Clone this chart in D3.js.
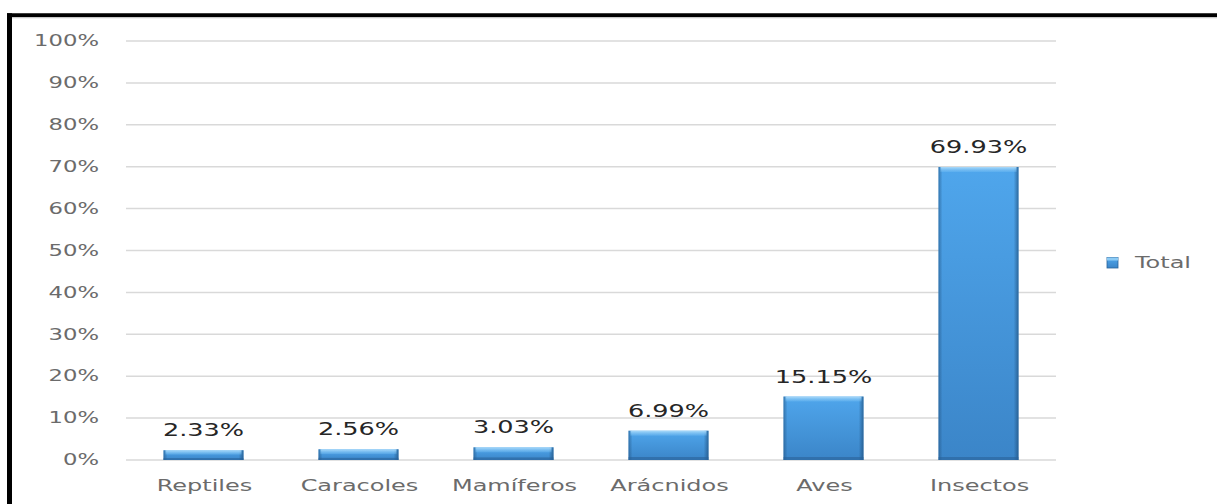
<!DOCTYPE html>
<html>
<head>
<meta charset="utf-8">
<script src="https://cdn.jsdelivr.net/npm/d3@7"></script>
<style>
html,body{margin:0;padding:0;background:#fff;}
svg{display:block;}
</style>
</head>
<body>
<script>
const categories = ["Reptiles","Caracoles","Mamíferos","Arácnidos","Aves","Insectos"];
const values = [2.33, 2.56, 3.03, 6.99, 15.15, 69.93];
const valueLabels = ["2.33%","2.56%","3.03%","6.99%","15.15%","69.93%"];
const tickValues = [0,10,20,30,40,50,60,70,80,90,100];
const seriesName = "Total";

const W = 1217, H = 504;
const SX = 1.42;
const SXC = 1.5;
const font = "DejaVu Sans, sans-serif";
const svg = d3.select("body").append("svg").attr("width", W).attr("height", H);

// border
svg.append("rect").attr("x",0).attr("y",0).attr("width",W).attr("height",H).attr("fill","#fff");
svg.append("line").attr("x1",7).attr("x2",W).attr("y1",15.3).attr("y2",15.3).attr("stroke","#000").attr("stroke-width",4);
svg.append("line").attr("x1",12).attr("x2",W).attr("y1",17.8).attr("y2",17.8).attr("stroke","#ccc").attr("stroke-width",1);
svg.append("line").attr("x1",9.5).attr("x2",9.5).attr("y1",13.3).attr("y2",H).attr("stroke","#000").attr("stroke-width",5);

const x = d3.scaleBand().domain(categories).range([126,1056]).paddingInner(0.484).paddingOuter(0.242);
const y = d3.scaleLinear().domain([0,100]).range([460,41]);

// defs
const defs = svg.append("defs");
const gv = defs.append("linearGradient").attr("id","gv").attr("x1",0).attr("y1",0).attr("x2",0).attr("y2",1);
gv.append("stop").attr("offset","0%").attr("stop-color","#4fa6ec");
gv.append("stop").attr("offset","100%").attr("stop-color","#3b85c8");
const gh = defs.append("linearGradient").attr("id","gh").attr("x1",0).attr("y1",0).attr("x2",1).attr("y2",0);
gh.append("stop").attr("offset","0%").attr("stop-color","#1f4f7c").attr("stop-opacity",0.55);
gh.append("stop").attr("offset","5%").attr("stop-color","#1f4f7c").attr("stop-opacity",0.0);
gh.append("stop").attr("offset","94%").attr("stop-color","#1f4f7c").attr("stop-opacity",0.0);
gh.append("stop").attr("offset","100%").attr("stop-color","#1f4f7c").attr("stop-opacity",0.7);
const gt = defs.append("linearGradient").attr("id","gt").attr("x1",0).attr("y1",0).attr("x2",0).attr("y2",1);
gt.append("stop").attr("offset","0%").attr("stop-color","#b6e0fb").attr("stop-opacity",0.9);
gt.append("stop").attr("offset","100%").attr("stop-color","#7cc3f5").attr("stop-opacity",0.3);

// gridlines
svg.append("g").selectAll("line").data(tickValues).join("line")
  .attr("x1",126).attr("x2",1056)
  .attr("y1",d=>y(d)).attr("y2",d=>y(d))
  .attr("stroke","#d9d9d9").attr("stroke-width",1.5);

// y tick labels
svg.append("g").selectAll("text").data(tickValues).join("text")
  .attr("transform",d=>`translate(99,${y(d)}) scale(${SX},1)`)
  .attr("text-anchor","end").attr("dominant-baseline","central")
  .attr("font-family",font).attr("font-size",16).attr("fill","#6b6b6b")
  .text(d=>d+"%");

// bars
const bars = svg.append("g").selectAll("g").data(categories).join("g");
bars.append("rect")
  .attr("x",d=>x(d)).attr("width",x.bandwidth())
  .attr("y",(d,i)=>y(values[i])).attr("height",(d,i)=>y(0)-y(values[i]))
  .attr("fill","url(#gv)");
bars.append("rect")
  .attr("x",d=>x(d)).attr("width",x.bandwidth())
  .attr("y",(d,i)=>y(values[i])).attr("height",(d,i)=>y(0)-y(values[i]))
  .attr("fill","url(#gh)");
bars.append("rect")
  .attr("x",d=>x(d)+2).attr("width",x.bandwidth()-4)
  .attr("y",(d,i)=>y(values[i])).attr("height",(d,i)=>Math.min(5,(y(0)-y(values[i]))*0.45))
  .attr("fill","url(#gt)");
bars.append("rect")
  .attr("x",d=>x(d)).attr("width",x.bandwidth())
  .attr("y",(d,i)=>y(0)-Math.min(3,(y(0)-y(values[i]))*0.2)).attr("height",(d,i)=>Math.min(3,(y(0)-y(values[i]))*0.2))
  .attr("fill","#2a6399").attr("opacity",0.6);

// data labels
svg.append("g").selectAll("text").data(categories).join("text")
  .attr("transform",(d,i)=>`translate(${x(d)+x.bandwidth()/2},${y(values[i])-14}) scale(${SX},1)`)
  .attr("text-anchor","middle")
  .attr("font-family",font).attr("font-size",18).attr("fill","#262626")
  .text((d,i)=>valueLabels[i]);

// category labels
svg.append("g").selectAll("text").data(categories).join("text")
  .attr("transform",d=>`translate(${x(d)+x.bandwidth()/2+1},491) scale(${SXC},1)`)
  .attr("text-anchor","middle")
  .attr("font-family",font).attr("font-size",16).attr("fill","#6b6b6b")
  .text(d=>d);

// legend
const lg = svg.append("g");
lg.append("rect").attr("x",1107).attr("y",257.5).attr("width",11).attr("height",10.5).attr("fill","url(#gv)").attr("stroke","#2a6399").attr("stroke-width",0.8);
lg.append("rect").attr("x",1107).attr("y",257.5).attr("width",11).attr("height",3).attr("fill","#8ccbf5");
lg.append("text").attr("transform",`translate(1135,263) scale(1.5,1)`)
  .attr("dominant-baseline","central")
  .attr("font-family",font).attr("font-size",16).attr("fill","#6b6b6b")
  .text(seriesName);
</script>
</body>
</html>
